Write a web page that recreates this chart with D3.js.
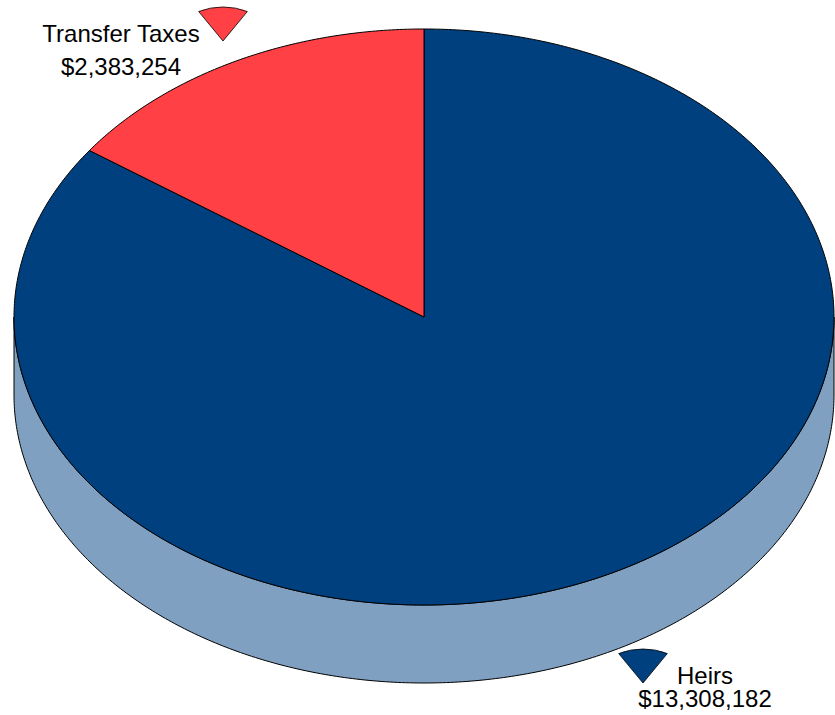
<!DOCTYPE html>
<html>
<head>
<meta charset="utf-8">
<script src="https://cdn.jsdelivr.net/npm/d3@7"></script>
<style>
  html, body { margin: 0; padding: 0; background: #ffffff; }
  svg { display: block; }
</style>
</head>
<body>
<svg id="chart" width="835" height="715"></svg>
<script>
// Estate distribution
const categories = ["Heirs", "Transfer Taxes"];
const amounts = [13308182, 2383254];
const valueLabels = ["$13,308,182", "$2,383,254"];

const topColors = ["#00407F", "#FF4044"];
const sideColors = ["#7FA0C0", "#C03038"];

const W = 835, H = 715;
const cx = 424, cy = 317;      // centre of the top face
const rx = 410, ry = 288;      // radii of the top face
const depth = 78;              // thickness of the disc

const svg = d3.select("#chart");

const pie = d3.pie().sort(null).value(d => d.value);
const arcs = pie(categories.map((c, i) => ({ name: c, value: amounts[i], label: valueLabels[i], i })));

// angle measured clockwise from 12 o'clock
const px = (a, k = 1) => cx + rx * k * Math.sin(a);
const py = (a, k = 1) => cy - ry * k * Math.cos(a);

function topPath(a0, a1) {
  const n = Math.max(2, Math.ceil((a1 - a0) / 0.01));
  const pts = d3.range(n + 1).map(j => a0 + (a1 - a0) * j / n);
  let d = `M${cx},${cy}`;
  pts.forEach(a => { d += `L${px(a)},${py(a)}`; });
  return d + "Z";
}

function sidePath(a0, a1) {
  // only the front half (pi/2 .. 3pi/2) of the wall is visible
  const s = Math.max(a0, Math.PI / 2), e = Math.min(a1, 3 * Math.PI / 2);
  if (e <= s) return null;
  const n = Math.max(2, Math.ceil((e - s) / 0.01));
  const pts = d3.range(n + 1).map(j => s + (e - s) * j / n);
  let d = "";
  pts.forEach((a, j) => { d += (j ? "L" : "M") + px(a) + "," + py(a); });
  pts.slice().reverse().forEach(a => { d += `L${px(a)},${py(a) + depth}`; });
  return d + "Z";
}

const g = svg.append("g");

// side walls
arcs.forEach(a => {
  const d = sidePath(a.startAngle, a.endAngle);
  if (d) g.append("path").attr("d", d)
    .attr("fill", sideColors[a.data.i])
    .attr("stroke", "#000").attr("stroke-width", 1).attr("stroke-linejoin", "round");
});

// top faces
arcs.forEach(a => {
  g.append("path").attr("d", topPath(a.startAngle, a.endAngle))
    .attr("fill", topColors[a.data.i])
    .attr("stroke", "#000").attr("stroke-width", 1).attr("stroke-linejoin", "round");
});

// label markers: small elliptical wedges pointing to their slice
const mA = 48.6, mB = 34, mHalf = Math.PI / 6;
function markerPath(x, y) {
  const lx = x - mA * Math.sin(mHalf), ly = y - mB * Math.cos(mHalf);
  const rxp = x + mA * Math.sin(mHalf);
  return `M${x},${y}L${lx},${ly}A${mA},${mB} 0 0 1 ${rxp},${ly}Z`;
}

const labelLayout = {
  "Transfer Taxes": { apex: [223, 41], tx: 121, lines: [42, 75] },
  "Heirs": { apex: [643, 683], tx: 705, lines: [684, 707] }
};

arcs.forEach(a => {
  const L = labelLayout[a.data.name];
  g.append("path").attr("d", markerPath(L.apex[0], L.apex[1]))
    .attr("fill", topColors[a.data.i])
    .attr("stroke", "#000").attr("stroke-width", 0.8);
  const t = g.append("text")
    .attr("text-anchor", "middle")
    .attr("font-family", "Liberation Sans, Arial, sans-serif")
    .attr("font-size", 24)
    .attr("fill", "#000");
  t.append("tspan").attr("x", L.tx).attr("y", L.lines[0]).text(a.data.name);
  t.append("tspan").attr("x", L.tx).attr("y", L.lines[1]).text(a.data.label);
});
</script>
</body>
</html>
